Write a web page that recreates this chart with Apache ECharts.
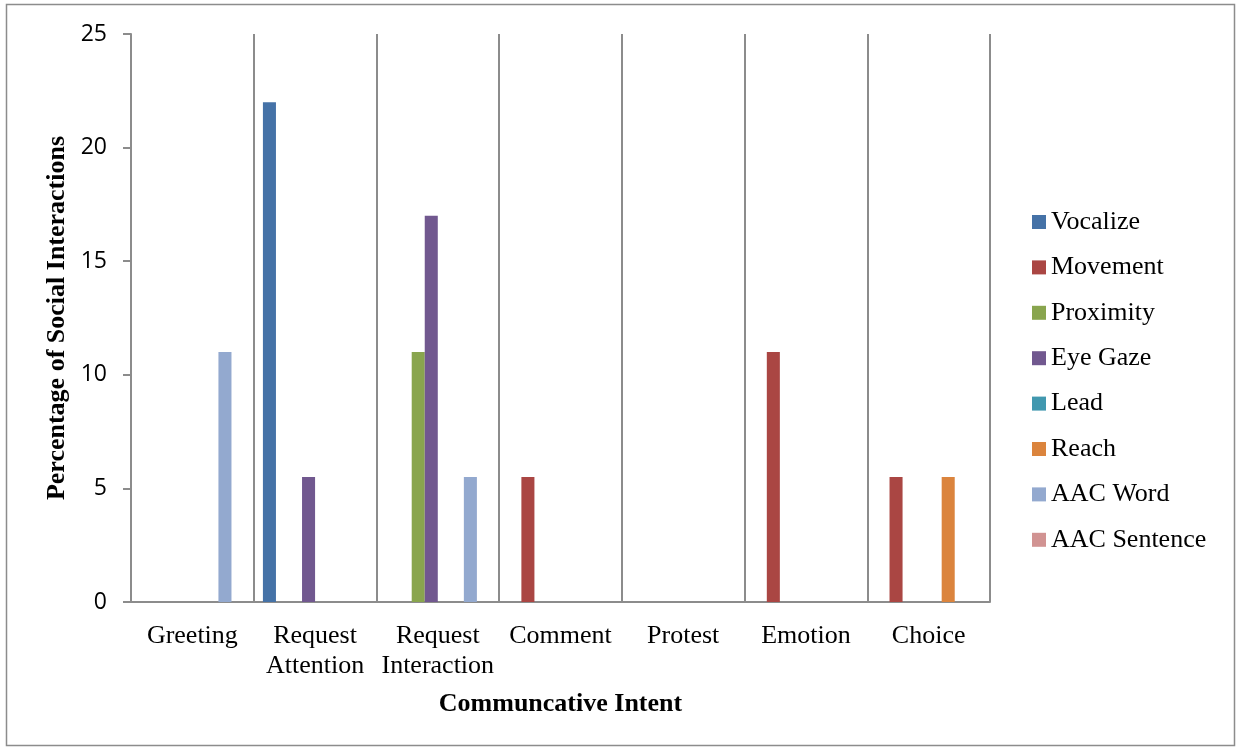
<!DOCTYPE html>
<html>
<head>
<meta charset="utf-8">
<script src="https://cdn.jsdelivr.net/npm/echarts@6/dist/echarts.min.js"></script>
<style>
  html, body { margin: 0; padding: 0; background: #fff; }
  #chart { width: 1237px; height: 748px; }
</style>
</head>
<body>
<div id="chart"></div>
<script>
// categories and series values
const categories = ['Greeting', 'Request\nAttention', 'Request\nInteraction', 'Comment', 'Protest', 'Emotion', 'Choice'];
const seriesNames = ['Vocalize', 'Movement', 'Proximity', 'Eye Gaze', 'Lead', 'Reach', 'AAC Word', 'AAC Sentence'];
const vocalize    = [0, 22, 0, 0, 0, 0, 0];
const movement    = [0, 0, 0, 5.5, 0, 11, 5.5];
const proximity   = [0, 0, 11, 0, 0, 0, 0];
const eyeGaze     = [0, 5.5, 17, 0, 0, 0, 0];
const lead        = [0, 0, 0, 0, 0, 0, 0];
const reach       = [0, 0, 0, 0, 0, 0, 5.5];
const aacWord     = [11, 0, 5.5, 0, 0, 0, 0];
const aacSentence = [0, 0, 0, 0, 0, 0, 0];
const yTicks = [0, 5, 10, 15, 20, 25];

const colors = ['#4572a7', '#aa4643', '#89a54e', '#71588f', '#4198af', '#db843d', '#93a9cf', '#d19392'];
const allData = [vocalize, movement, proximity, eyeGaze, lead, reach, aacWord, aacSentence];

let chart = echarts.init(document.getElementById('chart'));

let series = seriesNames.map((name, i) => ({
    name: name,
    type: 'bar',
    barGap: '0%',
    barCategoryGap: '15%',
    itemStyle: { color: colors[i] },
    data: allData[i]
}));

chart.setOption({
    animation: false,
    color: colors,
    graphic: [{
        type: 'rect',
        shape: { x: 6.5, y: 4.5, width: 1228, height: 741 },
        style: { fill: 'none', stroke: '#8c8c8c', lineWidth: 1.5 }
    }],
    grid: { left: 131, right: 247, top: 34, bottom: 146 },
    legend: {
        orient: 'vertical',
        left: 1027,
        top: 204,
        itemWidth: 14,
        itemHeight: 14,
        itemGap: 19.4,
        icon: 'rect',
        textStyle: { fontFamily: 'Liberation Serif', fontSize: 26, lineHeight: 26, color: '#000' },
        data: seriesNames
    },
    xAxis: {
        type: 'category',
        data: categories,
        name: 'Communcative Intent',
        nameLocation: 'middle',
        nameGap: 89,
        nameTextStyle: { fontFamily: 'Liberation Serif', fontSize: 26, fontWeight: 'bold', color: '#000' },
        axisLine: { lineStyle: { color: '#8c8c8c', width: 2 } },
        axisTick: { show: false },
        axisLabel: { interval: 0, fontFamily: 'Liberation Serif', fontSize: 26, color: '#000', margin: 19, lineHeight: 30 },
        splitLine: { show: true, interval: 0, lineStyle: { color: '#8c8c8c', width: 2 } }
    },
    yAxis: {
        type: 'value',
        min: yTicks[0],
        max: yTicks[yTicks.length - 1],
        interval: 5,
        name: 'Percentage of Social Interactions',
        nameLocation: 'middle',
        nameGap: 58,
        nameTextStyle: { fontFamily: 'Liberation Serif', fontSize: 26, fontWeight: 'bold', color: '#000' },
        axisLine: { show: true, lineStyle: { color: '#8c8c8c', width: 2 } },
        axisTick: { show: true, length: 8, lineStyle: { color: '#8c8c8c', width: 2 } },
        axisLabel: { fontFamily: 'Open Sans', fontSize: 23, color: '#000', margin: 24 },
        splitLine: { show: false }
    },
    series: series
});
</script>
</body>
</html>
